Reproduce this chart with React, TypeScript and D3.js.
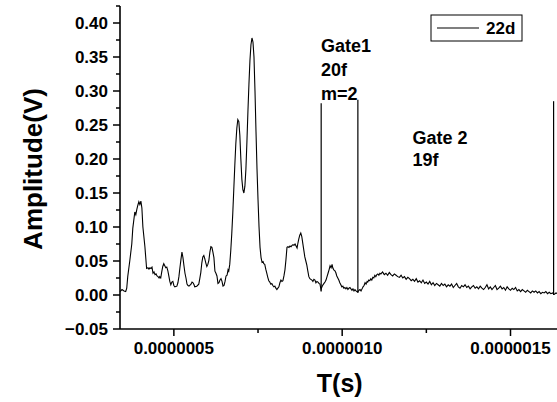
import React from "react";
import * as d3 from "d3";

// time in microseconds, amplitude in volts (series "22d")
const signal22d: [number, number][] = [
  [0.340, 0.005], [0.346, 0.008], [0.352, 0.006], [0.357, 0.005], [0.360, 0.010], [0.363, 0.027],
  [0.369, 0.050], [0.375, 0.075], [0.378, 0.098], [0.384, 0.122], [0.387, 0.118], [0.390, 0.126],
  [0.393, 0.132], [0.396, 0.137], [0.399, 0.133], [0.402, 0.138], [0.405, 0.128], [0.408, 0.100],
  [0.414, 0.071], [0.419, 0.039], [0.423, 0.040], [0.426, 0.038], [0.429, 0.040], [0.432, 0.039],
  [0.435, 0.041], [0.438, 0.032], [0.441, 0.034], [0.444, 0.030], [0.447, 0.031], [0.450, 0.028],
  [0.453, 0.027], [0.456, 0.025], [0.458, 0.027], [0.461, 0.025], [0.464, 0.034], [0.467, 0.042],
  [0.470, 0.046], [0.473, 0.043], [0.476, 0.040], [0.479, 0.041], [0.482, 0.036], [0.485, 0.028],
  [0.488, 0.020], [0.491, 0.015], [0.494, 0.019], [0.497, 0.020], [0.500, 0.014], [0.503, 0.012],
  [0.509, 0.013], [0.512, 0.018], [0.515, 0.027], [0.518, 0.040], [0.521, 0.052], [0.524, 0.063],
  [0.527, 0.055], [0.530, 0.043], [0.533, 0.032], [0.536, 0.025], [0.539, 0.016], [0.542, 0.014],
  [0.545, 0.013], [0.551, 0.016], [0.554, 0.019], [0.557, 0.018], [0.560, 0.015], [0.562, 0.012],
  [0.568, 0.013], [0.574, 0.016], [0.577, 0.024], [0.580, 0.033], [0.583, 0.047], [0.586, 0.056],
  [0.589, 0.058], [0.592, 0.053], [0.595, 0.047], [0.598, 0.042], [0.601, 0.045], [0.604, 0.051],
  [0.607, 0.063], [0.610, 0.071], [0.613, 0.070], [0.616, 0.063], [0.619, 0.055], [0.622, 0.035],
  [0.625, 0.032], [0.628, 0.028], [0.631, 0.017], [0.634, 0.018], [0.637, 0.022], [0.640, 0.024],
  [0.643, 0.020], [0.646, 0.013], [0.649, 0.014], [0.652, 0.020], [0.655, 0.028], [0.658, 0.029],
  [0.661, 0.037], [0.663, 0.035], [0.666, 0.045], [0.669, 0.065], [0.672, 0.090], [0.675, 0.120],
  [0.678, 0.155], [0.681, 0.190], [0.684, 0.222], [0.687, 0.245], [0.690, 0.258], [0.693, 0.255],
  [0.696, 0.235], [0.699, 0.200], [0.702, 0.170], [0.705, 0.155], [0.708, 0.150], [0.711, 0.160],
  [0.714, 0.185], [0.717, 0.225], [0.720, 0.270], [0.723, 0.310], [0.726, 0.345], [0.729, 0.368],
  [0.732, 0.378], [0.735, 0.372], [0.738, 0.350], [0.741, 0.300], [0.744, 0.240], [0.747, 0.185],
  [0.750, 0.140], [0.753, 0.100], [0.756, 0.070], [0.759, 0.055], [0.762, 0.048], [0.765, 0.049],
  [0.767, 0.046], [0.770, 0.045], [0.773, 0.038], [0.776, 0.032], [0.779, 0.026], [0.782, 0.021],
  [0.785, 0.019], [0.788, 0.016], [0.791, 0.017], [0.794, 0.014], [0.797, 0.012], [0.800, 0.013],
  [0.803, 0.010], [0.806, 0.008], [0.809, 0.010], [0.812, 0.012], [0.815, 0.018], [0.818, 0.022],
  [0.821, 0.020], [0.824, 0.021], [0.827, 0.028], [0.830, 0.037], [0.833, 0.052], [0.836, 0.070],
  [0.839, 0.071], [0.842, 0.070], [0.845, 0.072], [0.848, 0.071], [0.851, 0.073], [0.854, 0.074],
  [0.857, 0.073], [0.860, 0.075], [0.863, 0.072], [0.866, 0.069], [0.868, 0.075], [0.871, 0.082],
  [0.874, 0.088], [0.877, 0.091], [0.880, 0.086], [0.883, 0.076], [0.886, 0.066], [0.889, 0.056],
  [0.892, 0.050], [0.895, 0.044], [0.898, 0.035], [0.901, 0.027], [0.904, 0.024], [0.910, 0.022],
  [0.913, 0.020], [0.916, 0.023], [0.919, 0.022], [0.922, 0.018], [0.925, 0.020], [0.928, 0.019],
  [0.931, 0.017], [0.934, 0.016], [0.937, 0.008], [0.940, 0.012], [0.943, 0.015], [0.946, 0.017],
  [0.949, 0.019], [0.952, 0.022], [0.955, 0.027], [0.958, 0.032], [0.961, 0.037], [0.964, 0.043],
  [0.967, 0.040], [0.970, 0.045], [0.972, 0.040], [0.975, 0.037], [0.978, 0.036], [0.981, 0.033],
  [0.984, 0.028], [0.987, 0.025], [0.990, 0.022], [0.993, 0.018], [0.996, 0.015], [0.999, 0.012],
  [1.002, 0.013], [1.005, 0.010], [1.008, 0.011], [1.011, 0.009], [1.014, 0.011], [1.017, 0.008],
  [1.020, 0.010], [1.023, 0.011], [1.026, 0.009], [1.029, 0.007], [1.032, 0.009], [1.035, 0.006],
  [1.038, 0.008], [1.041, 0.006], [1.044, 0.005], [1.047, 0.005], [1.050, 0.007], [1.053, 0.008],
  [1.056, 0.006], [1.059, 0.009], [1.062, 0.012], [1.065, 0.014], [1.068, 0.018], [1.071, 0.016],
  [1.074, 0.020], [1.076, 0.019], [1.079, 0.022], [1.082, 0.021], [1.085, 0.024], [1.088, 0.022],
  [1.091, 0.026], [1.094, 0.025], [1.097, 0.029], [1.100, 0.027], [1.103, 0.030], [1.106, 0.031],
  [1.109, 0.029], [1.112, 0.032], [1.115, 0.031],
  [1.120, 0.034], [1.125, 0.030], [1.130, 0.032], [1.135, 0.029], [1.140, 0.033], [1.145, 0.030],
  [1.150, 0.028], [1.155, 0.031], [1.160, 0.029], [1.165, 0.027], [1.170, 0.026], [1.175, 0.029],
  [1.180, 0.025], [1.185, 0.027], [1.190, 0.023], [1.195, 0.026], [1.200, 0.024], [1.205, 0.021],
  [1.210, 0.023], [1.215, 0.020], [1.220, 0.024], [1.225, 0.019], [1.230, 0.021], [1.235, 0.018],
  [1.240, 0.022], [1.245, 0.017], [1.250, 0.019], [1.255, 0.016], [1.260, 0.020], [1.265, 0.015],
  [1.270, 0.018], [1.275, 0.014], [1.280, 0.017], [1.285, 0.015], [1.290, 0.013], [1.295, 0.017],
  [1.300, 0.014], [1.305, 0.016], [1.310, 0.012], [1.315, 0.015], [1.320, 0.013], [1.325, 0.016],
  [1.330, 0.011], [1.335, 0.014], [1.340, 0.017], [1.345, 0.012], [1.350, 0.010], [1.355, 0.014],
  [1.360, 0.012], [1.365, 0.015], [1.370, 0.011], [1.375, 0.013], [1.380, 0.009], [1.385, 0.012],
  [1.390, 0.014], [1.395, 0.010], [1.400, 0.012], [1.405, 0.009], [1.410, 0.013], [1.415, 0.010],
  [1.420, 0.008], [1.425, 0.011], [1.430, 0.015], [1.435, 0.009], [1.440, 0.012], [1.445, 0.008],
  [1.450, 0.011], [1.455, 0.014], [1.460, 0.008], [1.465, 0.010], [1.470, 0.013], [1.475, 0.009],
  [1.480, 0.011], [1.485, 0.007], [1.490, 0.012], [1.495, 0.009], [1.500, 0.007], [1.505, 0.010],
  [1.510, 0.008], [1.515, 0.011], [1.520, 0.006], [1.525, 0.008], [1.530, 0.005], [1.535, 0.008],
  [1.540, 0.006], [1.545, 0.004], [1.550, 0.007], [1.555, 0.005], [1.560, 0.003], [1.565, 0.006],
  [1.570, 0.004], [1.575, 0.006], [1.580, 0.003], [1.585, 0.005], [1.590, 0.002], [1.595, 0.004],
  [1.600, 0.003], [1.605, 0.005], [1.610, 0.002], [1.615, 0.004], [1.620, 0.002], [1.625, 0.003],
  [1.630, 0.001], [1.635, 0.003], [1.640, 0.002], [1.645, 0.001],
];

// gate markers (time µs, bottom V, top V)
const gateTimes = [0.9376, 1.0466, 1.628];
const gateBottoms = [0.005, 0.003, 0.0];
const gateTops = [0.282, 0.287, 0.285];

const yMajorTicks = [-0.05, 0, 0.05, 0.1, 0.15, 0.2, 0.25, 0.3, 0.35, 0.4];
const yMinorTicks = [-0.025, 0.025, 0.075, 0.125, 0.175, 0.225, 0.275, 0.325, 0.375, 0.425];
const xMajorTicks = [0.5, 1.0, 1.5];
const xMinorTicks = [0.75, 1.25];

const gate1Lines = ["Gate1", "20f", "m=2"];
const gate2Lines = ["Gate 2", "19f"];
const legendLabel = "22d";

const W = 557;
const H = 402;
const FONT = "Arial, 'Liberation Sans', Helvetica, sans-serif";

export default function App() {
  const x = d3.scaleLinear().domain([0.34, 1.65]).range([120, 561]);
  const y = d3.scaleLinear().domain([-0.05, 0.425]).range([329, 6]);
  const line = d3
    .line<[number, number]>()
    .x((d) => x(d[0]))
    .y((d) => y(d[1]));
  const fmtX = (v: number) => d3.format(".7f")(v * 1e-6);
  const fmtY = d3.format(".2f");
  const x0 = x.range()[0];
  const yBase = y.range()[0];

  return (
    <svg
      width={W}
      height={H}
      style={{ position: "absolute", left: 0, top: 0, background: "#fff" }}
      fontFamily={FONT}
    >
      <rect x={0} y={0} width={W} height={H} fill="#fff" />
      {/* data */}
      <path d={line(signal22d) || ""} fill="none" stroke="#000" strokeWidth={1.1} />
      {/* gates */}
      {gateTimes.map((t, i) => (
        <line
          key={"g" + i}
          x1={x(t)}
          x2={x(t)}
          y1={y(gateBottoms[i])}
          y2={y(gateTops[i])}
          stroke="#000"
          strokeWidth={1.2}
        />
      ))}
      {/* y axis */}
      <line x1={x0} x2={x0} y1={y(0.425)} y2={yBase} stroke="#000" strokeWidth={1.6} />
      {yMajorTicks.map((v) => (
        <g key={"ym" + v}>
          <line x1={x0 - 7} x2={x0} y1={y(v)} y2={y(v)} stroke="#000" strokeWidth={1.5} />
          <text
            x={x0 - 12}
            y={y(v)}
            dy="0.36em"
            textAnchor="end"
            fontSize={17}
            fontWeight="bold"
          >
            {fmtY(v)}
          </text>
        </g>
      ))}
      {yMinorTicks.map((v) => (
        <line key={"yn" + v} x1={x0 - 4} x2={x0} y1={y(v)} y2={y(v)} stroke="#000" strokeWidth={1.5} />
      ))}
      {/* x axis */}
      <line x1={x0} x2={W} y1={yBase} y2={yBase} stroke="#000" strokeWidth={1.6} />
      {xMajorTicks.map((v) => (
        <g key={"xm" + v}>
          <line x1={x(v)} x2={x(v)} y1={yBase} y2={yBase + 7} stroke="#000" strokeWidth={1.5} />
          <text x={x(v)} y={354} textAnchor="middle" fontSize={17} fontWeight="bold">
            {fmtX(v)}
          </text>
        </g>
      ))}
      {xMinorTicks.map((v) => (
        <line key={"xn" + v} x1={x(v)} x2={x(v)} y1={yBase} y2={yBase + 4} stroke="#000" strokeWidth={1.5} />
      ))}
      {/* axis titles */}
      <text x={339.7} y={392} textAnchor="middle" fontSize={25} fontWeight="bold">
        T(s)
      </text>
      <text
        transform="translate(42,169) rotate(-90)"
        textAnchor="middle"
        fontSize={26}
        fontWeight="bold"
      >
        Amplitude(V)
      </text>
      {/* annotations */}
      {gate1Lines.map((s, i) => (
        <text key={"a" + i} x={321} y={51.5 + i * 24.3} fontSize={18} fontWeight="bold">
          {s}
        </text>
      ))}
      {gate2Lines.map((s, i) => (
        <text key={"b" + i} x={412.5} y={144 + i * 22} fontSize={18} fontWeight="bold">
          {s}
        </text>
      ))}
      {/* legend */}
      <rect x={431} y={15} width={91} height={26} fill="#fff" stroke="#000" strokeWidth={1} />
      <line x1={437} x2={479} y1={28} y2={28} stroke="#000" strokeWidth={1.1} />
      <text x={486} y={34} fontSize={17} fontWeight="bold">
        {legendLabel}
      </text>
    </svg>
  );
}
